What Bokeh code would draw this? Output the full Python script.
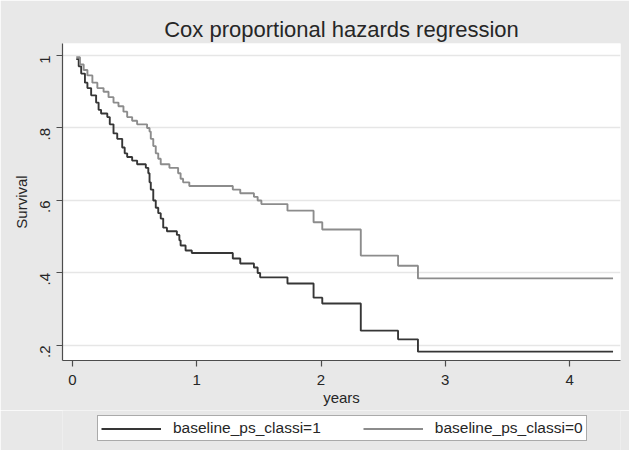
import math
from bokeh.plotting import figure
from bokeh.layouts import column
from bokeh.models import FixedTicker, Legend, LegendItem, Range1d, CustomJSTickFormatter
from bokeh.embed import file_html
from bokeh.resources import INLINE

# ---- data ----
t_class0 = [0.03, 0.06, 0.09, 0.12, 0.16, 0.20, 0.25, 0.29, 0.33, 0.37, 0.41, 0.44,
            0.48, 0.52, 0.60, 0.62, 0.63, 0.65, 0.67, 0.69, 0.71, 0.78, 0.85, 0.87,
            0.89, 0.94, 1.29, 1.35, 1.46, 1.49, 1.52, 1.73, 1.94, 2.01, 2.32, 2.62,
            2.78, 4.35]
s_class0 = [0.995, 0.975, 0.96, 0.945, 0.925, 0.91, 0.90, 0.885, 0.87, 0.86, 0.845, 0.83,
            0.82, 0.81, 0.80, 0.79, 0.77, 0.75, 0.73, 0.715, 0.70, 0.69, 0.675, 0.66,
            0.65, 0.64, 0.63, 0.62, 0.61, 0.60, 0.59, 0.572, 0.54, 0.52, 0.448, 0.42,
            0.385, 0.385]

t_class1 = [0.03, 0.05, 0.07, 0.10, 0.12, 0.15, 0.19, 0.21, 0.23, 0.28, 0.30, 0.33,
            0.36, 0.40, 0.42, 0.44, 0.48, 0.52, 0.59, 0.61, 0.62, 0.63, 0.65, 0.67,
            0.69, 0.71, 0.73, 0.76, 0.84, 0.86, 0.87, 0.91, 0.96, 1.29, 1.35, 1.46,
            1.49, 1.51, 1.73, 1.94, 2.01, 2.32, 2.62, 2.78, 4.35]
s_class1 = [0.99, 0.97, 0.95, 0.925, 0.91, 0.89, 0.87, 0.85, 0.84, 0.83, 0.81, 0.785,
            0.77, 0.746, 0.73, 0.72, 0.71, 0.70, 0.69, 0.675, 0.65, 0.63, 0.60, 0.58,
            0.565, 0.55, 0.525, 0.515, 0.505, 0.49, 0.476, 0.462, 0.455, 0.44, 0.426, 0.415,
            0.40, 0.388, 0.371, 0.332, 0.316, 0.241, 0.217, 0.183, 0.183]

x_ticks = [0, 1, 2, 3, 4]
y_ticks = [0.2, 0.4, 0.6, 0.8, 1]
y_tick_labels = [".2", ".4", ".6", ".8", "1"]
series_labels = ["baseline_ps_classi=1", "baseline_ps_classi=0"]
series_colors = ["#363636", "#8c8c8c"]

BG = "#e8e8e8"
FONT = "Liberation Sans"
TXT = "#262626"

p = figure(width=629, height=410, output_backend="svg", toolbar_location=None,
           x_range=Range1d(-0.0805, 4.41), y_range=Range1d(0.1586, 1.033),
           min_border_left=62, min_border_right=9, min_border_top=43,
           min_border_bottom=50)

p.background_fill_color = "white"
p.border_fill_color = BG
p.outline_line_color = None

p.title.text = "Cox proportional hazards regression"
p.title.align = "center"
p.title.text_font = FONT
p.title.text_font_size = "22px"
p.title.text_font_style = "normal"
p.title.text_color = TXT
p.title.standoff = 4

for ax in (p.xaxis[0], p.yaxis[0]):
    ax.axis_line_color = "#4d4d4d"
    ax.axis_line_width = 1.2
    ax.major_tick_line_color = "#4d4d4d"
    ax.major_tick_line_width = 1.2
    ax.major_tick_out = 6
    ax.major_tick_in = 0
    ax.minor_tick_line_color = None
    ax.major_label_text_font = FONT
    ax.major_label_text_font_size = "15px"
    ax.major_label_text_color = TXT
    ax.axis_label_text_font = FONT
    ax.axis_label_text_font_size = "15px"
    ax.axis_label_text_font_style = "normal"
    ax.axis_label_text_color = TXT

p.xaxis.ticker = FixedTicker(ticks=x_ticks)
p.xaxis.axis_label = "years"
p.xaxis.major_label_standoff = 8
p.xaxis.axis_label_standoff = 1

p.yaxis.ticker = FixedTicker(ticks=y_ticks)
p.yaxis.formatter = CustomJSTickFormatter(
    args=dict(tvals=y_ticks, tlabs=y_tick_labels),
    code="""
    let best = 0;
    for (let i = 0; i < tvals.length; i++) {
        if (Math.abs(tvals[i] - tick) < Math.abs(tvals[best] - tick)) best = i;
    }
    return tlabs[best];
    """)
p.yaxis.major_label_orientation = math.pi / 2
p.yaxis.axis_label = "Survival"
p.yaxis.major_label_standoff = 11
p.yaxis.axis_label_standoff = 3

p.xgrid.grid_line_color = None
p.ygrid.grid_line_color = "#e6e6e6"
p.ygrid.grid_line_width = 1.5

p.step(t_class1, s_class1, mode="after", line_color=series_colors[0], line_width=1.9)
p.step(t_class0, s_class0, mode="after", line_color=series_colors[1], line_width=1.9)

# ---- legend strip (a second figure; its lines lie outside its visible range) ----
pl = figure(width=629, height=40, output_backend="svg", toolbar_location=None,
            x_axis_type=None, y_axis_type=None, x_range=Range1d(100, 101),
            y_range=Range1d(100, 101), min_border_left=62, min_border_right=9,
            min_border_top=0, min_border_bottom=0)
pl.background_fill_color = BG
pl.border_fill_color = BG
pl.outline_line_color = None
pl.xgrid.visible = False
pl.ygrid.visible = False
lr1 = pl.line(t_class1, s_class1, line_color=series_colors[0], line_width=1.9)
lr0 = pl.line(t_class0, s_class0, line_color=series_colors[1], line_width=1.9)

legend = Legend(items=[LegendItem(label=series_labels[0], renderers=[lr1]),
                       LegendItem(label=series_labels[1], renderers=[lr0])],
                orientation="horizontal", location=(35, 9))
legend.label_text_font = FONT
legend.label_text_font_size = "15.5px"
legend.label_text_color = TXT
legend.glyph_width = 60
legend.glyph_height = 15
legend.label_height = 15
legend.label_standoff = 12
legend.spacing = 42
legend.padding = 3
legend.margin = 0
legend.border_line_color = "#555555"
legend.border_line_width = 1
legend.background_fill_color = "white"
legend.background_fill_alpha = 1
pl.add_layout(legend, "center")

layout = column(p, pl, spacing=0)
open("out.html", "w").write(file_html(layout, INLINE))
